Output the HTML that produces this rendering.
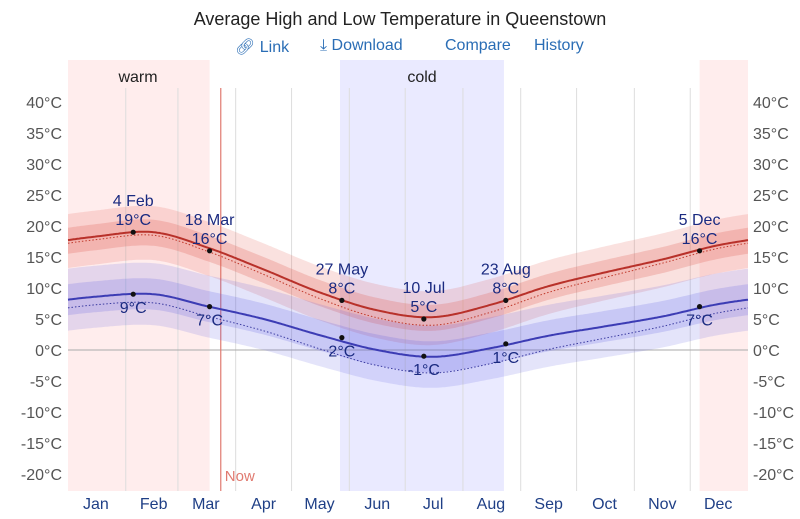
<!DOCTYPE html>
<html><head><meta charset="utf-8"><style>
body{margin:0;background:#fff;font-family:"Liberation Sans",sans-serif;}
#wrap{position:relative;width:800px;height:519px;overflow:hidden}
.hdr{position:absolute;left:0;width:800px;text-align:center}
.lnk{color:#2a6db5;font-size:16px;position:absolute;top:37px}
</style></head><body>
<div id="wrap">
<div class="hdr" style="top:9px;font-size:18px;color:#222">Average High and Low Temperature in Queenstown</div>
<span class="lnk" style="left:235px">&#128279;&#xFE0E; Link</span>
<span class="lnk" style="left:320px">&#10515; Download</span>
<span class="lnk" style="left:445px">Compare</span>
<span class="lnk" style="left:534px">History</span>
<svg id="c" width="800" height="519" style="position:absolute;left:0;top:0"></svg>
</div>
<script>
const months=["Jan","Feb","Mar","Apr","May","Jun","Jul","Aug","Sep","Oct","Nov","Dec"];
const midDays=[15,46,74,105,135,166,196,227,258,288,319,349];
const highVals=[18.3,19,16.6,13,9.3,6.4,5.3,7.3,10.3,12.5,14.6,16.9];
const lowVals=[8.6,9,7.1,5,2.4,0,-1.1,0.3,2.3,3.8,5.4,7.4];
const highFeel=[-0.5,-0.5,-0.6,-0.8,-1,-1.2,-1.3,-1.2,-1,-0.8,-0.6,-0.5];
const lowFeel=[-1.3,-1.4,-1.6,-1.9,-2.2,-2.5,-2.6,-2.5,-2.2,-1.9,-1.6,-1.4];
const yTicks=[40,35,30,25,20,15,10,5,0,-5,-10,-15,-20];
const markers=[{d:35,t:19,lab:"4 Feb",s:"h"},{d:76,t:16,lab:"18 Mar",s:"h"},{d:147,t:8,lab:"27 May",s:"h"},{d:191,t:5,lab:"10 Jul",s:"h"},{d:235,t:8,lab:"23 Aug",s:"h"},{d:339,t:16,lab:"5 Dec",s:"h"},
{d:35,t:9,s:"l"},{d:76,t:7,s:"l"},{d:147,t:2,s:"l"},{d:191,t:-1,s:"l"},{d:235,t:1,s:"l"},{d:339,t:7,s:"l"}];
const warmRanges=[[0,76],[339,365]];
const coldRanges=[[146,234]];
const nowDay=82;
const X0=68,X1=748,Y0=350,PX=6.2;
const xs=d=>X0+d/365*(X1-X0);
const ys=t=>Y0-t*PX;
const svg=document.getElementById('c');
const NS='http://www.w3.org/2000/svg';
const TC='#1a2a80';
function el(tag,attrs){const e=document.createElementNS(NS,tag);for(const k in attrs)e.setAttribute(k,attrs[k]);svg.appendChild(e);return e;}
function interp(arr,d){
  let n=arr.length,i=0;
  let dd=d; if(dd<midDays[0])dd+=365;
  for(i=0;i<n;i++){let a=midDays[i],b=i+1<n?midDays[i+1]:midDays[0]+365;if(dd>=a&&dd<=b)break;}
  if(i>=n)i=n-1;
  const a=midDays[i],b=i+1<n?midDays[i+1]:midDays[0]+365;
  const t=(dd-a)/(b-a);
  const p0=arr[(i-1+n)%n],p1=arr[i],p2=arr[(i+1)%n],p3=arr[(i+2)%n];
  return 0.5*((2*p1)+(-p0+p2)*t+(2*p0-5*p1+4*p2-p3)*t*t+(-p0+3*p1-3*p2+p3)*t*t*t);
}
function curve(fn){let s='';for(let d=0;d<=365;d+=1){s+=(d?'L':'M')+xs(d).toFixed(1)+','+ys(fn(d)).toFixed(1);}return s;}
function band(fnA,fnB,fill,name){
  let s='';for(let d=0;d<=365;d++)s+=(d?'L':'M')+xs(d).toFixed(1)+','+ys(fnA(d)).toFixed(1);
  for(let d=365;d>=0;d--)s+='L'+xs(d).toFixed(1)+','+ys(fnB(d)).toFixed(1);
  const p=el('path',{d:s+'Z',fill:fill});
  
  
}
warmRanges.forEach(r=>{const e=el('rect',{x:xs(r[0]),y:60,width:xs(r[1])-xs(r[0]),height:431,fill:'rgba(255,80,80,0.1)'});

});
coldRanges.forEach(r=>{const e=el('rect',{x:xs(r[0]),y:60,width:xs(r[1])-xs(r[0]),height:431,fill:'rgba(90,90,255,0.13)'});

});
let wt=el('text',{x:138,y:82,'text-anchor':'middle','font-size':16,fill:'#222'});wt.textContent='warm';


let ct=el('text',{x:422,y:82,'text-anchor':'middle','font-size':16,fill:'#222'});ct.textContent='cold';


const monthStarts=[0,31,59,90,120,151,181,212,243,273,304,334,365];
for(let i=1;i<12;i++){const g=el('line',{x1:xs(monthStarts[i]),x2:xs(monthStarts[i]),y1:88,y2:491,stroke:'#ddd','stroke-width':1});

}
months.forEach((m,i)=>{const t=el('text',{x:xs(midDays[i]),y:509,'text-anchor':'middle','font-size':16,fill:'#1f3f86'});t.textContent=m;

});
yTicks.forEach(v=>{
  const a=el('text',{x:62,y:ys(v)+6,'text-anchor':'end','font-size':16,fill:'#555'});a.textContent=v+'°C';
  
  
  const b=el('text',{x:753,y:ys(v)+6,'text-anchor':'start','font-size':16,fill:'#555'});b.textContent=v+'°C';
  
  
});
const zl=el('line',{x1:X0,x2:X1,y1:ys(0),y2:ys(0),stroke:'#aaa','stroke-width':1});


const nl=el('line',{x1:xs(nowDay),x2:xs(nowDay),y1:88,y2:491,stroke:'#e07a70','stroke-width':1.2});


const nt=el('text',{x:xs(nowDay)+4,y:481,'font-size':15,fill:'#e07a70'});nt.textContent='Now';


const H=d=>interp(highVals,d),L=d=>interp(lowVals,d);
band(d=>H(d)+4.2,d=>H(d)-4.5,'rgba(225,90,80,0.18)','high-outer-band');
band(d=>H(d)+2,d=>H(d)-2.2,'rgba(225,90,80,0.25)','high-inner-band');
band(d=>L(d)+5,d=>L(d)-5,'rgba(90,90,225,0.16)','low-outer-band');
band(d=>L(d)+2.5,d=>L(d)-2.5,'rgba(90,90,225,0.2)','low-inner-band');
let p=el('path',{d:curve(d=>H(d)+interp(highFeel,d)),fill:'none',stroke:'#c0392b','stroke-width':1,'stroke-dasharray':'1.5,2'});


p=el('path',{d:curve(d=>L(d)+interp(lowFeel,d)),fill:'none',stroke:'#3a3aa0','stroke-width':1,'stroke-dasharray':'1.5,2'});


p=el('path',{d:curve(H),fill:'none',stroke:'#b8312a','stroke-width':2});


p=el('path',{d:curve(L),fill:'none',stroke:'#3c3cb4','stroke-width':2});


markers.forEach(m=>{
  const x=xs(m.d),y=ys(m.t);
  const c=el('circle',{cx:x,cy:y,r:2.6,fill:'#111'});
  
  
  if(m.s==='h'){
    const a=el('text',{x:x,y:y-26,'text-anchor':'middle','font-size':16,fill:TC});a.textContent=m.lab;
    
    
    const b=el('text',{x:x,y:y-7,'text-anchor':'middle','font-size':16,fill:TC});b.textContent=m.t+'°C';
    
    
  }else{
    const b=el('text',{x:x,y:y+19,'text-anchor':'middle','font-size':16,fill:TC});b.textContent=m.t+'°C';
    
    
  }
});
</script>
</body></html>
